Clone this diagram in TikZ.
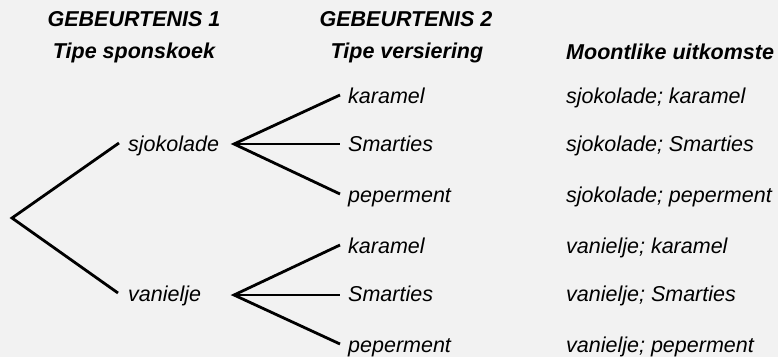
\documentclass[tikz,border=0pt]{standalone}
\usepackage{fontspec}
\setmainfont{Liberation Sans}
\definecolor{bg}{HTML}{F2F2F2}
\begin{document}
\begin{tikzpicture}[x=1pt,y=-1pt,
  lbl/.style={anchor=base west,inner sep=0pt,font=\fontsize{21.5}{25}\selectfont\itshape},
  hdr/.style={anchor=base,inner sep=0pt,font=\fontsize{21.5}{25}\selectfont\bfseries\itshape},
  br/.style={line width=2.8pt,line cap=butt,line join=miter}]
\fill[bg] (0,0) rectangle (778,357);
\useasboundingbox (0,0) rectangle (778,357);
% headers
\node[hdr] (h1a) at (134,26) {GEBEURTENIS 1};
\node[hdr] (h1b) at (134,58) {Tipe sponskoek};
\node[hdr] (h2a) at (406,26) {GEBEURTENIS 2};
\node[hdr] (h2b) at (407,58) {Tipe versiering};
\node[hdr,anchor=base west] (h3) at (566,59) {Moontlike uitkomste};
% coordinates
\coordinate (root) at (12,218);
\coordinate (e1) at (119,143);
\coordinate (e2) at (118,293);
\coordinate (f1) at (234,144);
\coordinate (f2) at (234,295);
\coordinate (a1) at (340,95);
\coordinate (a2) at (340,144);
\coordinate (a3) at (340,194);
\coordinate (b1) at (340,245);
\coordinate (b2) at (340,295);
\coordinate (b3) at (340,344);
% first event labels
\node[lbl] (sj) at (128,151) {sjokolade};
\node[lbl] (va) at (128,301.5) {vanielje};
% second event labels
\node[lbl] (k1) at (348,103) {karamel};
\node[lbl] (s1) at (348,151) {Smarties};
\node[lbl] (p1) at (348,202) {peperment};
\node[lbl] (k2) at (348,253) {karamel};
\node[lbl] (s2) at (348,301) {Smarties};
\node[lbl] (p2) at (348,352) {peperment};
% outcomes
\node[lbl] (o1) at (566,103) {sjokolade; karamel};
\node[lbl] (o2) at (566,151) {sjokolade; Smarties};
\node[lbl] (o3) at (566,202) {sjokolade; peperment};
\node[lbl] (o4) at (566,253) {vanielje; karamel};
\node[lbl] (o5) at (566,301) {vanielje; Smarties};
\node[lbl] (o6) at (566,352) {vanielje; peperment};
% branches
\draw[br] (e1) -- (root) -- (e2);
\draw[br] (a1) -- (f1) -- (a3);
\draw[br] (f1) -- (a2);
\draw[br] (b1) -- (f2) -- (b3);
\draw[br] (f2) -- (b2);
\end{tikzpicture}
\end{document}
